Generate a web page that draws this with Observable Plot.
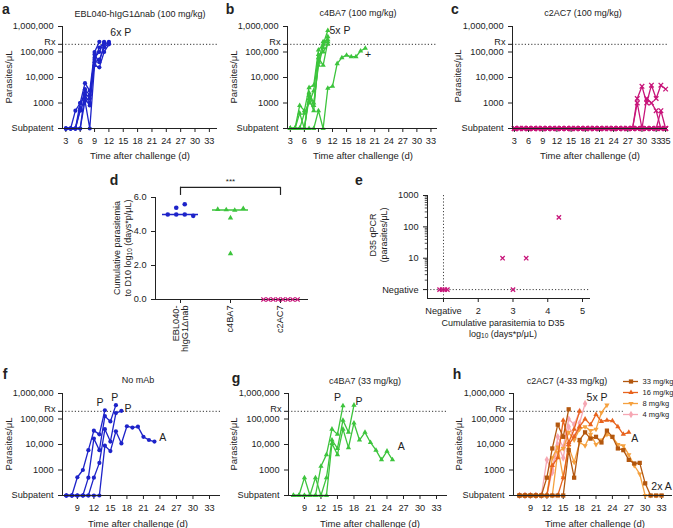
<!DOCTYPE html>
<html><head><meta charset="utf-8">
<script src="https://cdn.jsdelivr.net/npm/d3@7"></script>
<script src="https://cdn.jsdelivr.net/npm/@observablehq/plot@0.6"></script>
<style>
body{margin:0;background:#fff;}
#fig{position:relative;width:673px;height:528px;overflow:hidden;font-family:"Liberation Sans",Arial,sans-serif;color:#222;}
#fig svg{overflow:visible;}
.panel{position:absolute;}
.lbl{position:absolute;white-space:nowrap;font-size:9px;line-height:11px;transform:translate(-50%,-50%);text-align:center;}
.rot{transform:translate(-50%,-50%) rotate(-90deg);}
.let{position:absolute;font-weight:bold;font-size:14px;line-height:14px;transform:translate(-50%,-50%);}
sub{font-size:6.5px;vertical-align:-1px;line-height:0;}
</style></head><body><div id="fig"></div><script>
// ---------- data ----------
const SUB = 100;        // "Subpatent" plotted at the bottom of the log axis
const RX = 200000;      // treatment threshold
const yTickVals = [100, 1000, 10000, 100000, RX, 1000000];
const yTickText = ["Subpatent", "1000", "10,000", "100,000", "", "1,000,000"];
const rxText = "Rx";

// a: EBL040-hIgG1Δnab (100 mg/kg), daily from day 3 (0 = subpatent)
const aStart = 3;
const aMice = [
  [0,0,500,1000,6000,3000,100000,250000],
  [0,0,0,600,3500,2000,60000,100000,250000],
  [0,0,0,1000,2000,1000,40000,50000,150000,220000],
  [0,0,0,0,1200,0,30000,25000,100000,200000],
  [0,0,0,0,2500,1500,80000,40000,200000,250000],
  [0,0,0,500,1500,800,50000,150000,230000]
];
const aNoteText = ["6x P"], aNoteDay = [14.5], aNoteVal = [560000];

// b: c4BA7 (100 mg/kg)
const bStart = 3;
const bMice = [
  [0,0,800,500,4000,5000,120000,200000,700000],
  [0,0,0,0,2500,1000,30000,150000,400000],
  [0,0,400,0,1500,500,60000,30000,250000],
  [0,0,0,400,1000,3000,80000,100000,200000],
  [0,0,0,0,2000,800,40000,250000,300000],
  [0,0,0,0,0,0,500,0,3800,4500,35000,60000,75000,65000,65000,110000,140000]
];
const bNoteText = ["5x P", "+"], bNoteDay = [13.6, 19.6], bNoteVal = [700000, 80000];

// c: c2AC7 (100 mg/kg), days 3..35
const cStart = 3;
const cMice = [
  [0,0,0,0,0,0,0,0,0,0, 0,0,0,0,0,0,0,0,0,0, 0,0,0,0,0,0, 1500,4500,1000,5000,1500,5000,3500],
  [0,0,0,0,0,0,0,0,0,0, 0,0,0,0,0,0,0,0,0,0, 0,0,0,0,0,0, 1000,0,1500,1000,500,0,0],
  [0,0,0,0,0,0,0,0,0,0, 0,0,0,0,0,0,0,0,0,0, 0,0,0,0,0,0, 0,0,0,0,0,500,0],
  [0,0,0,0,0,0,0,0,0,0, 0,0,0,0,0,0,0,0,0,0, 0,0,0,0,0,0,0,0,0,0, 0,0,0],
  [0,0,0,0,0,0,0,0,0,0, 0,0,0,0,0,0,0,0,0,0, 0,0,0,0,0,0,0,0,0,0, 0,0,0],
  [0,0,0,0,0,0,0,0,0,0, 0,0,0,0,0,0,0,0,0,0, 0,0,0,0,0,0,0,0,0,0, 0,0,0]
];

// d: cumulative parasitemia to D10
const dCats = ["EBL040-\nhIgG1Δnab", "c4BA7", "c2AC7"];
const dEBL = [5.0, 5.0, 5.0, 4.92, 5.4, 5.6];
const dC4 = [5.3, 5.28, 5.25, 5.35, 4.8, 2.7];
const dC2 = [0, 0, 0, 0, 0, 0, 0, 0];

// e: cumulative parasitemia to D35 vs D35 qPCR (1 = Negative)
const eCum  = [2.70, 3.38, 3.00, 4.32, 1, 1, 1, 1];
const eQpcr = [10, 10, 1, 200, 1, 1, 1, 1];

// f: No mAb, from day 7
const fStart = 7;
const fMice = [
  [0,0,520,1000,6000,35000,25000,220000],
  [0,0,0,0,500,17000,6000,130000,80000,350000],
  [0,0,0,0,0,500,1900,40000,13000,170000,210000],
  [0,0,0,0,0,0,0,9000,5500,33000,11000,52000,46000,50000,20000,15000,13000]
];
const fNoteText = ["P", "P", "P", "A"], fNoteDay = [13.1, 15.8, 18.2, 24.5], fNoteVal = [420000, 700000, 260000, 19000];

// g: c4BA7 (33 mg/kg), from day 7
const gStart = 7;
const gMice = [
  [0,0,0,0,0,1400,4000,40000,25000,330000],
  [0,0,500,0,500,0,500,15000,7000,90000,30000,350000],
  [0,0,0,0,0,0,0,11000,4000,40000,7500,70000,15000,30000,12000,6000,2500,5500,2500]
];
const gNoteText = ["P", "P", "A"], gNoteDay = [15.0, 18.9, 26.6], gNoteVal = [700000, 480000, 8000];

// h: c2AC7 (4-33 mg/kg), from day 7
const hDoses = ["33 mg/kg", "16 mg/kg", "8 mg/kg", "4 mg/kg"];
const hColors = ["#b3570e", "#e8631d", "#f5a13f", "#f6a7b3"];
const hSymbols = ["square", "triangle", "triangle", "diamond"];
const hStart = 7;
const hGroups = ["4 mg/kg", "4 mg/kg", "8 mg/kg", "8 mg/kg", "16 mg/kg", "16 mg/kg", "33 mg/kg", "33 mg/kg"];
const hMice = [
  [0,0,0,0,0,2500,800,10000,3000,50000,20000,70000,400000],
  [0,0,0,0,0,0,1000,20000,8000,100000,60000,200000],
  [0,0,0,0,0,0,3000,8000,500,8000,2000,12000,9000,25000,10000,15000,25000,20000,10000,9000,4000,1500,700,0,0,0,0],
  [0,0,0,0,0,0,0,5000,7000,30000,15000,40000,50000,35000,40000,180000,350000],
  [0,0,0,0,0,0,1500,3000,90000,12000,40000,200000],
  [0,0,0,0,0,0,0,0,500,10000,20000,50000,100000,60000,150000,80000,90000,85000,50000,25000,30000],
  [0,0,0,0,0,500,7000,60000,20000,240000],
  [0,0,0,0,0,0,0,0,0,6000,500,15000,30000,17000,20000,12000,35000,20000,7000,6000,2500,1800,1900,300,0,0,0]
];
const hNoteText = ["5x P", "A", "2x A"], hNoteDay = [21.2, 28.1, 33.0], hNoteVal = [700000, 17000, 230];

// ---------- helpers ----------
const fig = document.getElementById("fig");
const BLUE = "#1d23c9", GREEN = "#3cc43c", MAG = "#c8157a";
const FONT = '"Liberation Sans", Arial, sans-serif';
const baseStyle = {fontFamily: FONT, fontSize: "9.2px", color: "#222", background: "none", overflow: "visible"};
const symR = {circle: 2.1, triangle: 1.95, square: 2.4, diamond: 2.3, times: 2.2};

function place(svg, left, top) {
  const d = document.createElement("div");
  d.className = "panel"; d.style.left = left + "px"; d.style.top = top + "px";
  d.appendChild(svg); fig.appendChild(d);
}
function label(html, x, y, opts = {}) {
  const d = document.createElement("div");
  d.className = "lbl" + (opts.rot ? " rot" : "");
  d.style.left = x + "px"; d.style.top = y + "px";
  if (opts.size) d.style.fontSize = opts.size + "px";
  d.innerHTML = html; fig.appendChild(d);
}
function letter(t, x, y) {
  const d = document.createElement("div");
  d.className = "let"; d.style.left = x + "px"; d.style.top = y + "px";
  d.textContent = t; fig.appendChild(d);
}
function notesOf(text, day, val) { return text.map((t, i) => ({t, day: day[i], v: val[i]})); }

function symbolDots(data, symbol, color, extra = {}) {
  if (symbol === "times")
    return Plot.dot(data, {x: "day", y: "v", symbol: "times", stroke: color, strokeWidth: 1.3, r: symR.times, ...extra});
  return Plot.dot(data, {x: "day", y: "v", symbol, fill: color, r: symR[symbol], ...extra});
}

function timecourse(o) {
  const rows = [];
  o.mice.forEach((vals, i) => vals.forEach((v, k) =>
    rows.push({m: i, day: o.start + k, v: v === 0 ? SUB : v, g: o.groups ? o.groups[i] : null})));
  const grouped = !!o.groups;
  const dotMarks = [];
  if (grouped) {
    [...hDoses].reverse().forEach(dose => {
      const gi = hDoses.indexOf(dose);
      dotMarks.push(Plot.line(rows.filter(r => r.g === dose), {x: "day", y: "v", z: "m", stroke: hColors[gi], strokeWidth: 1.3}));
      dotMarks.push(symbolDots(rows.filter(r => r.g === dose), hSymbols[gi], hColors[gi], {rotate: dose === "8 mg/kg" ? 180 : 0}));
    });
  } else {
    dotMarks.push(Plot.line(rows, {x: "day", y: "v", z: "m", stroke: o.color, strokeWidth: 1.3}));
    dotMarks.push(symbolDots(rows, o.symbol, o.color));
  }
  const svg = Plot.plot({
    width: o.width, height: o.height,
    marginLeft: o.ml, marginRight: o.mr, marginTop: o.mt, marginBottom: o.mb,
    style: baseStyle,
    x: {domain: o.xdom, ticks: o.xticks, tickFormat: d => String(d), tickSize: 4, label: null},
    y: {type: "log", domain: [SUB, 1000000], ticks: yTickVals, tickFormat: v => yTickText[yTickVals.indexOf(v)], tickSize: 4, label: null},
    marks: [
      Plot.ruleY([RX], {x1: () => o.xdom[0], x2: () => (o.rxTo || o.xdom[1]), stroke: "#333", strokeWidth: 1, strokeDasharray: "1.2,2"}),
      Plot.text([rxText], {x: () => o.xdom[0], y: () => RX, text: d => d, textAnchor: "end", dx: -7, dy: -2.5, fontSize: 9.2}),
      ...dotMarks,
      Plot.ruleX([o.xdom[0]], {stroke: "#222", strokeWidth: 1}),
      Plot.ruleY([SUB], {stroke: "#222", strokeWidth: 1}),
      Plot.text(o.notes || [], {x: "day", y: "v", text: "t", fontSize: 10.5, fill: "#222"})
    ]
  });
  place(svg, o.left, o.top);
}

// ---------- top row ----------
const topX = [3, 6, 9, 12, 15, 18, 21, 24, 27, 30, 33];
timecourse({left: 0, top: 0, width: 225, height: 170, ml: 62, mr: 8, mt: 26, mb: 42,
  xdom: [2.3, 34.7], xticks: topX, start: aStart, mice: aMice, color: BLUE, symbol: "circle",
  notes: notesOf(aNoteText, aNoteDay, aNoteVal)});
timecourse({left: 225, top: 0, width: 225, height: 170, ml: 62, mr: 13, mt: 26, mb: 42,
  xdom: [2.4, 34.4], xticks: topX, start: bStart, mice: bMice, color: GREEN, symbol: "triangle",
  notes: notesOf(bNoteText, bNoteDay, bNoteVal)});
timecourse({left: 450, top: 0, width: 223, height: 170, ml: 62, mr: 6, mt: 26, mb: 42,
  xdom: [2.6, 35.4], xticks: [...topX, 35], start: cStart, mice: cMice, color: MAG, symbol: "times"});

letter("a", 6, 9); letter("b", 230, 9); letter("c", 455, 9);
label("EBL040-hIgG1Δnab (100 mg/kg)", 140, 14);
label("c4BA7 (100 mg/kg)", 358, 13);
label("c2AC7 (100 mg/kg)", 583, 13);
label("Parasites/μL", 8, 77, {rot: true, size: 9.5});
label("Parasites/μL", 233, 77, {rot: true, size: 9.5});
label("Parasites/μL", 457, 76, {rot: true, size: 9.5});
label("Time after challenge (d)", 140, 155, {size: 9.5});
label("Time after challenge (d)", 363, 155, {size: 9.5});
label("Time after challenge (d)", 590, 155, {size: 9.5});

// ---------- panel d ----------
(function () {
  const groups = [
    {vals: dEBL, color: BLUE, symbol: "circle"},
    {vals: dC4, color: GREEN, symbol: "triangle"},
    {vals: dC2, color: MAG, symbol: "times"}
  ];
  const pts = [], meds = [];
  groups.forEach((g, gi) => {
    const bins = d3.group(g.vals.map((v, i) => ({v, i})), d => Math.round(d.v * 2) / 2);
    for (const items of bins.values()) {
      const n = items.length, sp = n > 5 ? 0.68 / (n - 1) : 0.17;
      items.forEach((d, k) => pts.push({x: gi + (k - (n - 1) / 2) * sp, y: d.v, gi}));
    }
    meds.push({gi, m: d3.median(g.vals)});
  });
  const marks = [
    Plot.ruleY(meds.filter(d => d.m > 0), {y: "m", x1: d => d.gi - 0.36, x2: d => d.gi + 0.36, stroke: d => groups[d.gi].color, strokeWidth: 1.3}),
    Plot.ruleX([-0.5], {stroke: "#222"}),
    Plot.ruleY([0], {stroke: "#222"})
  ];
  groups.forEach((g, gi) => {
    const data = pts.filter(p => p.gi === gi);
    if (g.symbol === "times") marks.push(Plot.dot(data, {x: "x", y: "y", symbol: "times", stroke: g.color, strokeWidth: 1.3, r: 2.1}));
    else marks.push(Plot.dot(data, {x: "x", y: "y", symbol: g.symbol, fill: g.color, r: g.symbol === "circle" ? 2.3 : 2.0}));
  });
  marks.push(
    Plot.ruleY([6.6], {x1: () => 0, x2: () => 2, stroke: "#222", strokeWidth: 1.2}),
    Plot.ruleX([0, 2], {y1: () => 6.12, y2: () => 6.6, stroke: "#222", strokeWidth: 1.2}),
    Plot.text(["***"], {x: () => 1, y: () => 6.95, text: d => d, fontSize: 8}),
    Plot.text(dCats, {x: (d, i) => i, y: () => 0, text: d => d, rotate: -90, textAnchor: "end", lineAnchor: "middle", dy: 6, fontSize: 9.2})
  );
  const svg = Plot.plot({
    width: 230, height: 170, marginLeft: 55, marginRight: 22, marginTop: 27, marginBottom: 41,
    style: baseStyle,
    x: {domain: [-0.5, 2.56], ticks: [0, 1, 2], tickFormat: () => "", tickSize: 4, label: null},
    y: {domain: [0, 6], ticks: [0, 2, 4, 6], tickSize: 4, label: null},
    marks
  });
  place(svg, 100, 170);
  letter("d", 114, 180);
  label("Cumulative parasitemia<br>to D10 log<sub>10</sub> (days*p/μL)", 123, 248, {rot: true, size: 9});
})();

// ---------- panel e ----------
(function () {
  const xmin = 0.54, xmax = 5.23, ymin = 0.52, pxPerUnit = (230 - 57 - 10) / (xmax - xmin);
  const raw = eCum.map((x, i) => ({x, y: eQpcr[i]}));
  const bins = d3.group(raw, d => d.x + "|" + d.y);
  const pts = [];
  for (const items of bins.values()) {
    const n = items.length;
    items.forEach((d, k) => pts.push({x: d.x + (k - (n - 1) / 2) * 2.6 / pxPerUnit, y: d.y}));
  }
  const minor = [];
  [1, 10, 100].forEach(dec => [2, 3, 4, 5, 6, 7, 8, 9].forEach(m => minor.push(dec * m)));
  const svg = Plot.plot({
    width: 230, height: 170, marginLeft: 57, marginRight: 10, marginTop: 25, marginBottom: 42,
    style: baseStyle,
    x: {domain: [xmin, xmax], ticks: [1, 2, 3, 4, 5], tickFormat: v => v === 1 ? "Negative" : String(v), tickSize: 4, label: null},
    y: {type: "log", domain: [ymin, 1000], ticks: [1, 10, 100, 1000], tickFormat: v => v === 1 ? "Negative" : String(v), tickSize: 4, label: null},
    marks: [
      Plot.ruleX([1], {stroke: "#444", strokeDasharray: "1.2,2"}),
      Plot.ruleY([1], {stroke: "#444", strokeDasharray: "1.2,2"}),
      Plot.ruleY(minor, {x1: () => xmin - 0.065, x2: () => xmin, stroke: "#222", strokeWidth: 0.8}),
      Plot.ruleX([xmin], {stroke: "#222"}),
      Plot.ruleY([ymin], {stroke: "#222"}),
      Plot.dot(pts, {x: "x", y: "y", symbol: "times", stroke: MAG, strokeWidth: 1.3, r: 2.1})
    ]
  });
  place(svg, 370, 170);
  letter("e", 359, 180);
  label("D35 qPCR<br>(parasites/μL)", 379, 235, {rot: true, size: 9});
  label("Cumulative parasitemia to D35<br>log<sub>10</sub> (days*p/μL)", 503, 329, {size: 9});
})();

// ---------- bottom row ----------
const botX = [9, 12, 15, 18, 21, 24, 27, 30, 33];
timecourse({left: 0, top: 340, width: 225, height: 188, ml: 62, mr: 5, mt: 53, mb: 33,
  xdom: [6.3, 35], xticks: botX, start: fStart, mice: fMice, color: BLUE, symbol: "circle",
  notes: notesOf(fNoteText, fNoteDay, fNoteVal)});
timecourse({left: 225, top: 340, width: 225, height: 188, ml: 63, mr: 3, mt: 53, mb: 33,
  xdom: [6.1, 35], xticks: botX, start: gStart, mice: gMice, color: GREEN, symbol: "triangle",
  notes: notesOf(gNoteText, gNoteDay, gNoteVal)});
timecourse({left: 450, top: 340, width: 223, height: 188, ml: 63, mr: 1, mt: 53, mb: 33,
  xdom: [5.9, 35], xticks: botX, start: hStart, mice: hMice, groups: hGroups, rxTo: 26,
  notes: notesOf(hNoteText, hNoteDay, hNoteVal)});

letter("f", 5, 374); letter("g", 236, 378); letter("h", 457, 374);
label("No mAb", 138, 380);
label("c4BA7 (33 mg/kg)", 365, 381);
label("c2AC7 (4-33 mg/kg)", 567, 381);
label("Parasites/μL", 8, 444, {rot: true, size: 9.5});
label("Parasites/μL", 233, 444, {rot: true, size: 9.5});
label("Parasites/μL", 458, 444, {rot: true, size: 9.5});
label("Time after challenge (d)", 138, 523, {size: 9.5});
label("Time after challenge (d)", 370, 523, {size: 9.5});
label("Time after challenge (d)", 595, 523, {size: 9.5});

// legend for h
place(Plot.plot({
  width: 53, height: 47, marginLeft: 3, marginRight: 35, marginTop: 7, marginBottom: 7,
  style: baseStyle,
  x: {domain: [0, 1], axis: null},
  y: {type: "point", domain: hDoses, padding: 0, axis: null},
  marks: [
    Plot.ruleY(hDoses, {y: d => d, x1: () => 0, x2: () => 1, stroke: (d, i) => hColors[i], strokeWidth: 1.3}),
    ...hDoses.map((dose, i) => Plot.dot([dose], {x: () => 0.5, y: d => d, fill: hColors[i], symbol: hSymbols[i], rotate: dose === "8 mg/kg" ? 180 : 0, r: symR[hSymbols[i]]})),
    Plot.text(hDoses, {x: () => 1, y: d => d, text: d => d, dx: 4, textAnchor: "start", fontSize: 7.5})
  ]
}), 620, 374);
</script></body></html>
